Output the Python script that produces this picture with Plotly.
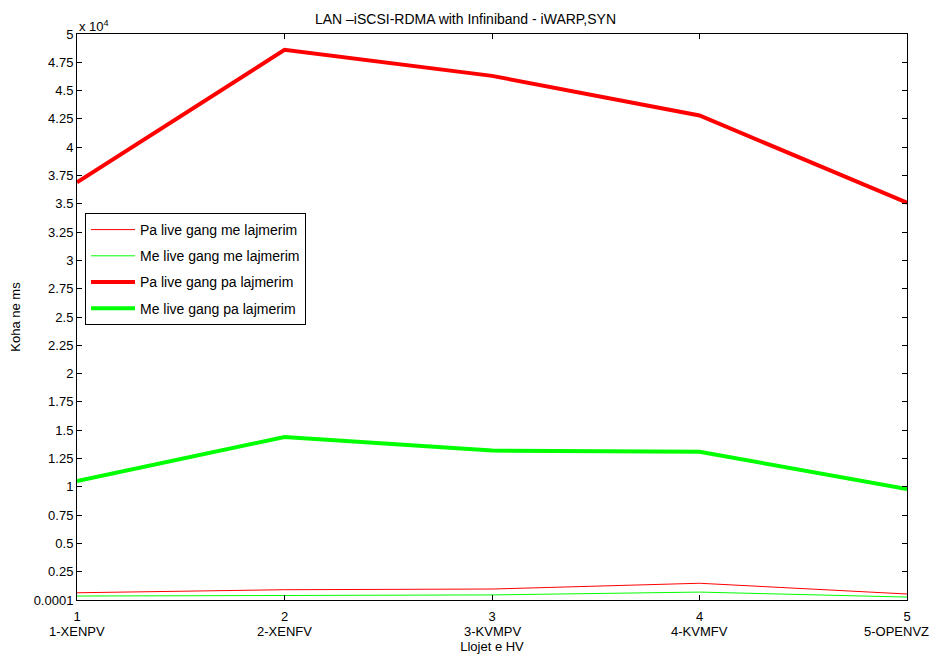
import plotly.graph_objects as go

x_vals = [1, 2, 3, 4, 5]
x_labels = ["1-XENPV", "2-XENFV", "3-KVMPV", "4-KVMFV", "5-OPENVZ"]
pa_me = [640, 910, 970, 1480, 530]
me_me = [350, 420, 450, 700, 260]
pa_pa = [36900, 48600, 46300, 42800, 35100]
me_pa = [10500, 14400, 13200, 13100, 9800]
y_tickvals = [1] + [2500 * i for i in range(1, 21)]
y_ticktext = ["0.0001"] + [("%g" % (0.25 * i)) for i in range(1, 21)]

FONT = "Liberation Sans, Arial, sans-serif"
fig = go.Figure()
series = [
    ("Pa live gang me lajmerim", pa_me, "#ff0000", 1),
    ("Me live gang me lajmerim", me_me, "#00ff00", 1),
    ("Pa live gang pa lajmerim", pa_pa, "#ff0000", 4),
    ("Me live gang pa lajmerim", me_pa, "#00ff00", 4),
]
for i, (name, ys, col, w) in enumerate(series):
    fig.add_trace(go.Scatter(x=x_vals, y=ys, mode="lines", name=name,
                             line=dict(color=col, width=w), legendgroup=f"g{i}"))

fig.update_layout(
    width=931, height=654,
    margin=dict(l=77, r=24, t=34, b=54, autoexpand=False),
    paper_bgcolor="white", plot_bgcolor="white",
    font=dict(family=FONT, size=13, color="black"),
    title=dict(text="LAN \u2013iSCSI-RDMA with Infiniband - iWARP,SYN", x=0.5, xanchor="center",
               y=1 - 19 / 654, yanchor="middle", font=dict(size=14, family=FONT)),
    showlegend=True,
    legend=dict(x=(85 - 77) / 830, y=(600 - 213) / 566, xanchor="left", yanchor="top",
                bordercolor="black", borderwidth=1, bgcolor="white", itemwidth=44,
                font=dict(size=14, family=FONT), tracegroupgap=5, traceorder="grouped"),
)
fig.update_xaxes(range=[1, 5], tickvals=x_vals, ticktext=[str(v) for v in x_vals],
                 automargin=False, ticklabeloverflow="allow", ticklabelstandoff=4,
                 tickfont=dict(size=13),
                 showline=True, linecolor="black", linewidth=1, mirror="ticks",
                 ticks="inside", ticklen=5, tickcolor="black", showgrid=False, zeroline=False,
                 title=dict(text="Llojet e HV", standoff=22, font=dict(size=13)))
fig.update_yaxes(range=[1, 50000], tickvals=y_tickvals, ticktext=y_ticktext, automargin=False,
                 tickfont=dict(size=13),
                 showline=True, linecolor="black", linewidth=1, mirror="ticks",
                 ticks="inside", ticklen=5, tickcolor="black", showgrid=False, zeroline=False,
                 title=dict(text="Koha ne ms", standoff=10, font=dict(size=13)))
for i, (v, lab) in enumerate(zip(x_vals, x_labels)):
    last = i == len(x_vals) - 1
    fig.add_annotation(text=lab, xref="x", yref="paper", x=v, y=(600 - 631) / 566,
                       xanchor="right" if last else "center", yanchor="middle",
                       xshift=24 if last else 0, showarrow=False,
                       font=dict(size=13, family=FONT))
fig.add_annotation(text="x 10<sup>4</sup>", xref="paper", yref="paper", x=0, y=1,
                   xanchor="left", yanchor="bottom", showarrow=False, yshift=-2,
                   font=dict(size=13, family=FONT))
fig.write_html("out.html")
